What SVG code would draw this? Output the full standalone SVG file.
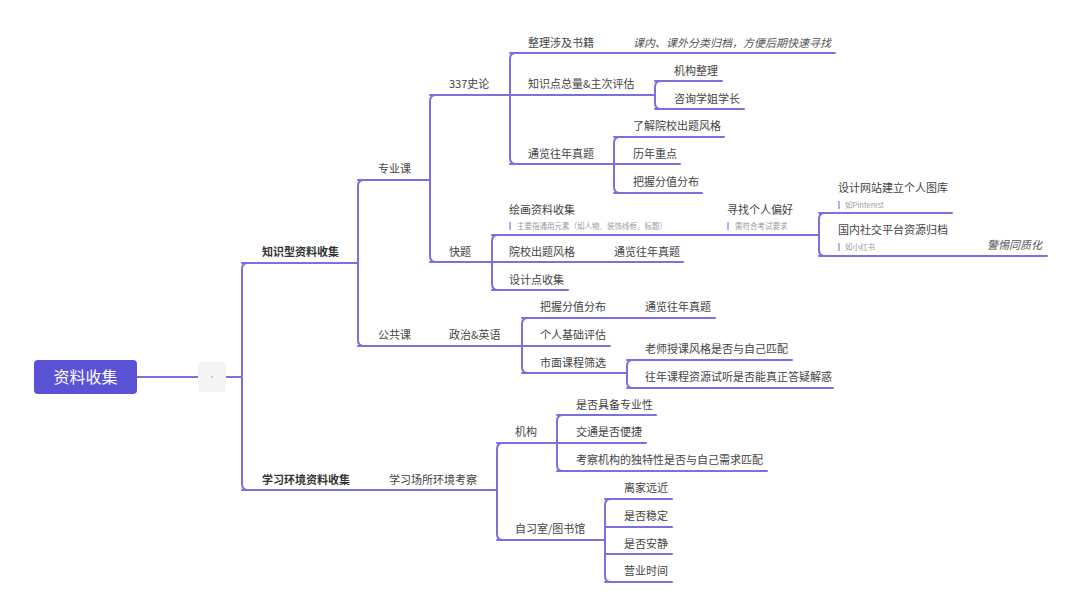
<svg xmlns="http://www.w3.org/2000/svg" width="1080" height="616" viewBox="0 0 1080 616">
<style>
.ln{stroke:#7a70e0;stroke-width:2;fill:none;stroke-linecap:round}
.t{font-family:"Noto Sans CJK SC","Noto Sans",sans-serif;font-size:11px;fill:#444}
.b{font-weight:bold;fill:#333}
.i{font-style:italic;fill:#555}
.n{font-family:"Noto Sans CJK SC","Noto Sans",sans-serif;font-size:7.5px;fill:#999}
.bar{stroke:#9d95ea;stroke-width:1.5}
</style>
<rect width="1080" height="616" fill="#ffffff"/>
<g id="connectors">
<path class="ln" d="M137 377H198M226 377H242"/>
<path class="ln" d="M248 263Q242 263 242 269V484Q242 490 248 490"/>
<path class="ln" d="M364 180Q358 180 358 186V340Q358 346 364 346"/>
<path class="ln" d="M436 95Q430 95 430 101V256Q430 262 436 262"/>
<path class="ln" d="M516 53Q510 53 510 59V158Q510 164 516 164"/>
<path class="ln" d="M661 81Q655 81 655 87V103Q655 109 661 109"/>
<path class="ln" d="M620 137Q614 137 614 143V187Q614 193 620 193"/>
<path class="ln" d="M498 235Q492 235 492 241V284Q492 290 498 290"/>
<path class="ln" d="M825 213Q819 213 819 219V250Q819 256 825 256"/>
<path class="ln" d="M528 318Q522 318 522 324V367Q522 373 528 373"/>
<path class="ln" d="M633 360Q627 360 627 366V382Q627 388 633 388"/>
<path class="ln" d="M503 443Q497 443 497 449V534Q497 540 503 540"/>
<path class="ln" d="M563 415Q557 415 557 421V465Q557 471 563 471"/>
<path class="ln" d="M611 499Q605 499 605 505V576Q605 582 611 582"/>
</g>
<g id="root">
<rect x="34" y="360" width="103" height="34" rx="4" fill="#5a52d5"/>
<text x="85.5" y="383" text-anchor="middle" font-family="'Noto Sans CJK SC','Noto Sans',sans-serif" font-size="16" fill="#ffffff">资料收集</text>
</g>
<g id="collapse">
<rect x="198" y="362" width="28" height="30" rx="4" fill="#f4f4f4"/>
<circle cx="212" cy="377" r="0.8" fill="#999"/>
</g>
<g id="n-zhishi"><path class="ln" d="M242 263H358"/><text class="t b" x="262" y="256">知识型资料收集</text></g>
<g id="n-xuexi"><path class="ln" d="M242 490H497"/><text class="t b" x="262" y="484">学习环境资料收集</text></g>
<g id="n-changsuo"><text class="t" x="389" y="484">学习场所环境考察</text></g>
<g id="n-zhuanye"><path class="ln" d="M358 180H430"/><text class="t" x="378" y="173">专业课</text></g>
<g id="n-gonggong"><path class="ln" d="M358 346H522"/><text class="t" x="378" y="339">公共课</text></g>
<g id="n-zhengzhi"><text class="t" x="449" y="339">政治&amp;英语</text></g>
<g id="n-337"><path class="ln" d="M430 95H510"/><text class="t" x="449" y="88">337史论</text></g>
<g id="n-kuaiti"><path class="ln" d="M430 262H492"/><text class="t" x="449" y="256">快题</text></g>
<g id="n-shuji"><path class="ln" d="M510 53H835"/><text class="t" x="528" y="47">整理涉及书籍</text><text class="t i" x="633" y="47">课内、课外分类归档，方便后期快速寻找</text></g>
<g id="n-zhishidian"><path class="ln" d="M510 95H655"/><text class="t" x="528" y="88">知识点总量&amp;主次评估</text></g>
<g id="n-jigouzl"><path class="ln" d="M655 81H722"/><text class="t" x="674" y="75">机构整理</text></g>
<g id="n-zixun"><path class="ln" d="M655 109H744"/><text class="t" x="674" y="103">咨询学姐学长</text></g>
<g id="n-tonglan1"><path class="ln" d="M510 164H614"/><text class="t" x="528" y="158">通览往年真题</text></g>
<g id="n-liaojie"><path class="ln" d="M614 137H724"/><text class="t" x="633" y="130">了解院校出题风格</text></g>
<g id="n-linian"><path class="ln" d="M614 164H680"/><text class="t" x="633" y="158">历年重点</text></g>
<g id="n-bawo1"><path class="ln" d="M614 193H702"/><text class="t" x="633" y="186">把握分值分布</text></g>
<g id="n-huihua"><path class="ln" d="M492 235H727"/><text class="t" x="509" y="214">绘画资料收集</text><line class="bar" x1="510" y1="222" x2="510" y2="230"/><text class="n" x="517" y="229">主要指通用元素（如人物、装饰线框、标题）</text></g>
<g id="n-xunzhao"><path class="ln" d="M727 235H819"/><text class="t" x="727" y="214">寻找个人偏好</text><line class="bar" x1="728" y1="222" x2="728" y2="230"/><text class="n" x="735" y="229">需符合考试要求</text></g>
<g id="n-sheji"><path class="ln" d="M819 213H952"/><text class="t" x="838" y="192">设计网站建立个人图库</text><line class="bar" x1="839" y1="201" x2="839" y2="209"/><text class="n" x="845" y="208">如Pinterest</text></g>
<g id="n-guonei"><path class="ln" d="M819 256H1047"/><text class="t" x="838" y="234">国内社交平台资源归档</text><line class="bar" x1="839" y1="243" x2="839" y2="251"/><text class="n" x="845" y="250">如小红书</text><text class="t i" x="987" y="249">警惕同质化</text></g>
<g id="n-yuanxiao"><path class="ln" d="M492 262H614"/><text class="t" x="509" y="256">院校出题风格</text></g>
<g id="n-tonglan2"><path class="ln" d="M614 262H683"/><text class="t" x="614" y="256">通览往年真题</text></g>
<g id="n-shejidian"><path class="ln" d="M492 290H568"/><text class="t" x="509" y="284">设计点收集</text></g>
<g id="n-bawo2"><path class="ln" d="M522 318H645"/><text class="t" x="540" y="311">把握分值分布</text></g>
<g id="n-tonglan3"><path class="ln" d="M645 318H715"/><text class="t" x="645" y="311">通览往年真题</text></g>
<g id="n-geren"><path class="ln" d="M522 346H610"/><text class="t" x="540" y="339">个人基础评估</text></g>
<g id="n-shimian"><path class="ln" d="M522 373H627"/><text class="t" x="540" y="367">市面课程筛选</text></g>
<g id="n-laoshi"><path class="ln" d="M627 360H792"/><text class="t" x="645" y="353">老师授课风格是否与自己匹配</text></g>
<g id="n-wangnian"><path class="ln" d="M627 388H833"/><text class="t" x="645" y="381">往年课程资源试听是否能真正答疑解惑</text></g>
<g id="n-jigou"><path class="ln" d="M497 443H557"/><text class="t" x="515" y="436">机构</text></g>
<g id="n-zhuanyexing"><path class="ln" d="M557 415H656"/><text class="t" x="576" y="409">是否具备专业性</text></g>
<g id="n-jiaotong"><path class="ln" d="M557 443H646"/><text class="t" x="576" y="436">交通是否便捷</text></g>
<g id="n-dute"><path class="ln" d="M557 471H767"/><text class="t" x="576" y="464">考察机构的独特性是否与自己需求匹配</text></g>
<g id="n-zixishi"><path class="ln" d="M497 540H605"/><text class="t" x="515" y="533">自习室/图书馆</text></g>
<g id="n-lijia"><path class="ln" d="M605 499H672"/><text class="t" x="624" y="492">离家远近</text></g>
<g id="n-wending"><path class="ln" d="M605 527H672"/><text class="t" x="624" y="520">是否稳定</text></g>
<g id="n-anjing"><path class="ln" d="M605 554H672"/><text class="t" x="624" y="548">是否安静</text></g>
<g id="n-yingye"><path class="ln" d="M605 582H672"/><text class="t" x="624" y="575">营业时间</text></g>
</svg>
